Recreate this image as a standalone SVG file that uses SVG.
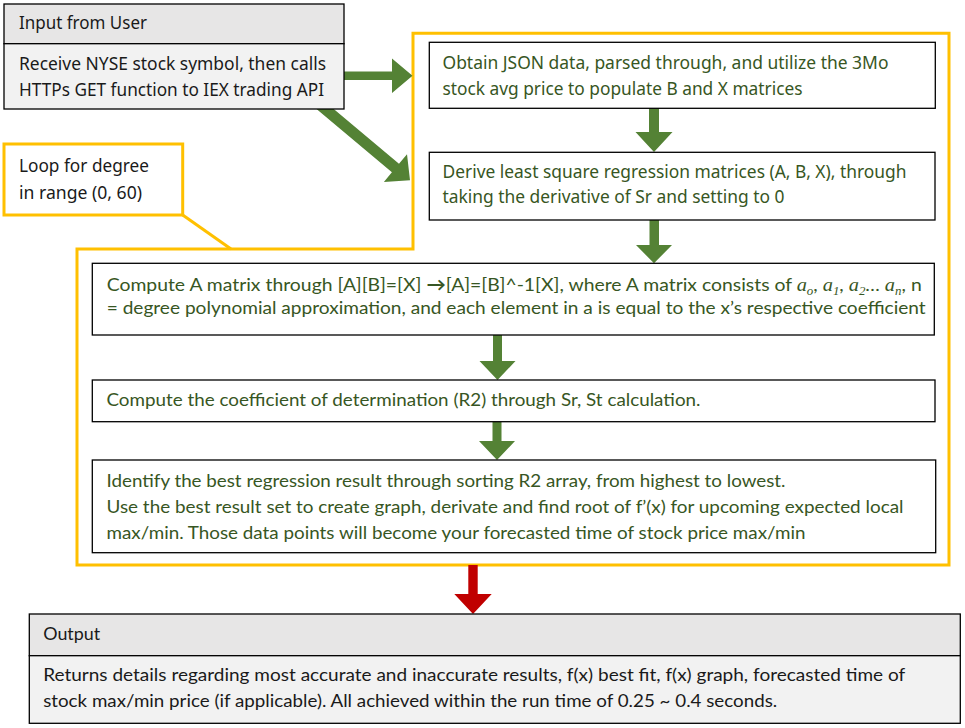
<svg xmlns="http://www.w3.org/2000/svg" width="965" height="728" viewBox="0 0 965 728">
<defs>
<style>
.box{fill:#fff;stroke:#000;stroke-width:1.3}
.hdr{fill:#E7E6E6;stroke:#000;stroke-width:1.3}
.bdy{fill:#F2F2F2;stroke:#000;stroke-width:1.3}
.yl{fill:none;stroke:#FFC000;stroke-width:3}
.ylb{fill:#fff;stroke:#FFC000;stroke-width:3}
.seg{font-family:"Noto Sans","Open Sans","DejaVu Sans",sans-serif;font-size:18px}
.cal{font-family:Lato,"Liberation Sans",sans-serif;font-size:18px}
.m{font-family:"Liberation Serif",serif;font-style:italic;font-size:19px}
.s{font-family:"Liberation Serif",serif;font-style:italic;font-size:12px}
.g{fill:#375623}
.k{fill:#1a1a1a}
.ga{fill:#548235}
.ra{fill:#C00000}
</style>
</defs>
<rect width="965" height="728" fill="#fff"/>
<g id="loop-frame">
<polygon class="yl" points="413,33.3 949,33.3 949,565 77,565 77,249 413,249"/>
<line class="yl" x1="182.7" y1="215" x2="231" y2="249"/>
</g>
<g id="connectors">
<polygon class="ga" points="344,71.5 392,71.5 392,58.5 412.5,75.8 392,93 392,80 344,80"/>
<polygon class="ga" transform="translate(410,180.3) rotate(40)" points="-140,-5.5 -19,-5.5 -19,-18 0,0 -19,18 -19,5.5 -140,5.5"/>
<polygon class="ga" points="649,108 659,108 659,132 672.5,132 654,152 635.5,132 649,132"/>
<polygon class="ga" points="649.5,220 659,220 659,245 672,245 654,263.3 636,245 649.5,245"/>
<polygon class="ga" points="493,335 502,335 502,361 515.5,361 497.5,380 479.5,361 493,361"/>
<polygon class="ga" points="492.5,421.7 501.5,421.7 501.5,441 515,441 497,460 479,441 492.5,441"/>
<polygon class="ra" points="468.3,565 477.7,565 477.7,594 491.7,594 473,614 454.3,594 468.3,594"/>
</g>
<g id="input">
<rect class="hdr" x="4" y="4" width="340" height="39.7"/>
<rect class="bdy" x="4" y="43.7" width="340" height="65.3"/>
<text class="seg k" x="19" y="29" textLength="128" lengthAdjust="spacingAndGlyphs">Input from User</text>
<text class="seg k" x="19" y="70" textLength="307" lengthAdjust="spacingAndGlyphs">Receive NYSE stock symbol, then calls</text>
<text class="seg k" x="19" y="96" textLength="305" lengthAdjust="spacingAndGlyphs">HTTPs GET function to IEX trading API</text>
</g>
<g id="loop-label">
<rect class="ylb" x="4" y="144" width="178.7" height="71"/>
<text class="seg k" x="19" y="172" textLength="130" lengthAdjust="spacingAndGlyphs">Loop for degree</text>
<text class="seg k" x="19" y="199" textLength="123" lengthAdjust="spacingAndGlyphs">in range (0, 60)</text>
</g>
<g id="obtain">
<rect class="box" x="429.3" y="42.3" width="506" height="66"/>
<text class="seg g" x="442.5" y="69.3" textLength="446" lengthAdjust="spacingAndGlyphs">Obtain JSON data, parsed through, and utilize the 3Mo</text>
<text class="seg g" x="442.5" y="95.3" textLength="360" lengthAdjust="spacingAndGlyphs">stock avg price to populate B and X matrices</text>
</g>
<g id="derive">
<rect class="box" x="429.3" y="152.3" width="505.7" height="67.7"/>
<text class="seg g" x="442.5" y="178.3" textLength="464" lengthAdjust="spacingAndGlyphs">Derive least square regression matrices (A, B, X), through</text>
<text class="seg g" x="442.5" y="203.3" textLength="342" lengthAdjust="spacingAndGlyphs">taking the derivative of Sr and setting to 0</text>
</g>
<g id="compute-a">
<rect class="box" x="92.3" y="263.3" width="842" height="71.7"/>
<text class="cal g" x="106.7" y="290.5" textLength="815" lengthAdjust="spacingAndGlyphs">Compute A matrix through [A][B]=[X] <tspan font-weight="bold">→</tspan>[A]=[B]^-1[X], where A matrix consists of <tspan class="m">a</tspan><tspan class="s" baseline-shift="-4">o</tspan>, <tspan class="m">a</tspan><tspan class="s" baseline-shift="-4">1</tspan>, <tspan class="m">a</tspan><tspan class="s" baseline-shift="-4">2</tspan>… <tspan class="m">a</tspan><tspan class="s" baseline-shift="-4">n</tspan>, n</text>
<text class="cal g" x="106.7" y="314" textLength="819" lengthAdjust="spacingAndGlyphs">= degree polynomial approximation, and each element in a is equal to the x’s respective coefficient</text>
</g>
<g id="coefficient">
<rect class="box" x="92.3" y="380" width="842.7" height="41.7"/>
<text class="cal g" x="106.5" y="406" textLength="594" lengthAdjust="spacingAndGlyphs">Compute the coefficient of determination (R2) through Sr, St calculation.</text>
</g>
<g id="identify">
<rect class="box" x="92.3" y="460" width="843.4" height="92.7"/>
<text class="cal g" x="106.5" y="486.7" textLength="679" lengthAdjust="spacingAndGlyphs">Identify the best regression result through sorting R2 array, from highest to lowest.</text>
<text class="cal g" x="106.5" y="513.3" textLength="797" lengthAdjust="spacingAndGlyphs">Use the best result set to create graph, derivate and find root of f’(x) for upcoming expected local</text>
<text class="cal g" x="106.5" y="539.3" textLength="699" lengthAdjust="spacingAndGlyphs">max/min. Those data points will become your forecasted time of stock price max/min</text>
</g>
<g id="output">
<rect class="hdr" x="29.3" y="614" width="931" height="41.7"/>
<rect class="bdy" x="29.3" y="655.7" width="931" height="67.6"/>
<text class="cal k" x="43.2" y="640" textLength="57" lengthAdjust="spacingAndGlyphs">Output</text>
<text class="cal k" x="43.2" y="681.3" textLength="862" lengthAdjust="spacingAndGlyphs">Returns details regarding most accurate and inaccurate results, f(x) best fit, f(x) graph, forecasted time of</text>
<text class="cal k" x="43.2" y="706.7" textLength="734" lengthAdjust="spacingAndGlyphs">stock max/min price (if applicable). All achieved within the run time of 0.25 ~ 0.4 seconds.</text>
</g>
</svg>
